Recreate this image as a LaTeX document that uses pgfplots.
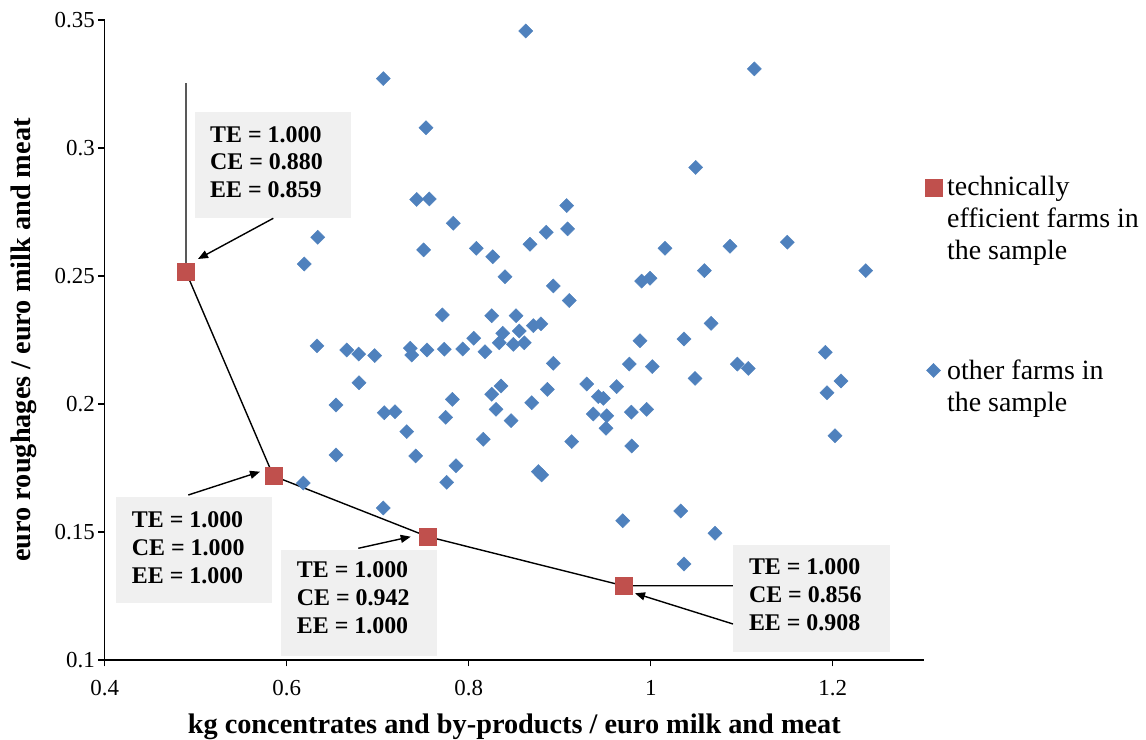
\documentclass[border=0pt]{standalone}
\usepackage{fontspec}
\setmainfont{Liberation Serif}
\usepackage{pgfplots}
\pgfplotsset{compat=1.18}
\usetikzlibrary{arrows.meta}
\definecolor{eblue}{RGB}{79,129,189}
\definecolor{ered}{RGB}{192,80,77}
\definecolor{boxgray}{RGB}{240,240,240}

\begin{document}
\begin{tikzpicture}[x=1bp,y=1bp]
\useasboundingbox (0,0) rectangle (1146,740);
\begin{axis}[
  at={(104.8bp,80bp)}, anchor=south west,
  scale only axis, width=819bp, height=640bp,
  xmin=0.4, xmax=1.3, ymin=0.1, ymax=0.35,
  axis x line*=bottom, axis y line*=left,
  axis line style={line width=1.2bp, -},
  xtick={0.4,0.6,0.8,1,1.2}, ytick={0.1,0.15,0.2,0.25,0.3,0.35},
  tick align=outside, major tick length=6.5bp,
  tick style={line width=1.2bp, black},
  /pgf/number format/assume math mode=true,
  ticklabel style={font=\fontsize{23}{27}\selectfont},
  xticklabel style={yshift=-10bp},
  xlabel={kg concentrates and by-products / euro milk and meat},
  ylabel={euro roughages / euro milk and meat},
  label style={font=\bfseries\fontsize{28.4}{32}\selectfont},
  xlabel style={at={(axis description cs:0.5,-0.1141)}, anchor=base},
  ylabel style={at={(axis description cs:-0.0913,0.5)}, anchor=base},
  legend style={at={(axis description cs:1.0012,0.756)}, anchor=north west,
    draw=none, fill=none, inner sep=0pt, row sep=99bp, column sep=5bp,
    font=\fontsize{28}{32}\selectfont, nodes={inner sep=0pt, align=left}},
  legend cell align=left,
]
\addplot[only marks, mark=square*, mark size=8.6bp, color=ered, mark options={line width=0.4bp},
  legend image post style={yshift=31bp}]
  coordinates {(0.4892,0.2516) (0.5852,0.1719) (0.7548,0.1482) (0.9700,0.1290)};
\addlegendentry{technically\\efficient farms in\\the sample}
\addplot[only marks, mark=square*, mark size=5bp, color=eblue, mark options={rotate=45, line width=0.4bp},
  legend image post style={yshift=16bp}]
  coordinates {
(0.8625,0.3457) (0.7060,0.3271) (1.1137,0.3309) (0.7530,0.3079) (1.0493,0.2924)
(0.7427,0.2799) (0.7566,0.2801) (0.6340,0.2651) (0.7830,0.2706) (0.9076,0.2775)
(0.9085,0.2684) (0.8851,0.2671) (0.8673,0.2624) (0.6192,0.2547) (0.7504,0.2602)
(0.8082,0.2608) (0.8263,0.2575) (0.7709,0.2348) (0.8252,0.2345) (0.6332,0.2227)
(0.6658,0.2211) (0.6790,0.2195) (0.6966,0.2189) (0.7357,0.2218) (0.7373,0.2191)
(0.7541,0.2211) (0.7731,0.2214) (0.7933,0.2215) (0.8054,0.2257) (0.8178,0.2204)
(1.0156,0.2608) (1.0588,0.2521) (0.8398,0.2497) (0.9900,0.2480) (0.9991,0.2491)
(0.8929,0.2461) (0.9104,0.2404) (0.8519,0.2345) (0.8709,0.2306) (0.8793,0.2313)
(0.8373,0.2276) (0.8555,0.2285) (0.8335,0.2239) (0.8489,0.2233) (0.8610,0.2239)
(0.9881,0.2247) (1.0365,0.2254) (0.8929,0.2159) (0.9764,0.2156) (1.0016,0.2146)
(1.0870,0.2616) (1.1500,0.2632) (1.2362,0.2521) (1.0662,0.2315) (1.1918,0.2202)
(1.0951,0.2156) (1.1071,0.2139) (1.0486,0.2100) (1.2090,0.2090) (1.1936,0.2044)
(1.2024,0.1876) (1.0705,0.1495) (0.8354,0.2070) (0.8252,0.2038) (0.8863,0.2057)
(0.9296,0.2078) (0.9625,0.2068) (0.9423,0.2029) (0.9478,0.2022) (0.8691,0.2005)
(0.8299,0.1979) (0.8464,0.1935) (0.9368,0.1961) (0.9515,0.1954) (0.9786,0.1968)
(0.9955,0.1979) (0.9508,0.1905) (0.9131,0.1853) (0.9790,0.1836) (0.8764,0.1736)
(0.8801,0.1723) (1.0329,0.1582) (0.9691,0.1544) (1.0365,0.1375) (0.6793,0.2083)
(0.6541,0.1996) (0.7071,0.1966) (0.7189,0.1970) (0.7819,0.2018) (0.7746,0.1948)
(0.8159,0.1862) (0.7318,0.1892) (0.6541,0.1801) (0.7416,0.1797) (0.7859,0.1759)
(0.7757,0.1694) (0.6181,0.1691) (0.7060,0.1594)
  };
\addlegendentry{other farms in\\the sample}
\addplot[black, line width=1.4bp, forget plot, mark=none]
  coordinates {(0.4892,0.3253) (0.4892,0.2516) (0.5852,0.1719) (0.7548,0.1482) (0.9700,0.1290) (1.0903,0.1290)};
\end{axis}
% annotation boxes
\fill[boxgray] (195,521.7) rectangle (351,628.3);
\fill[boxgray] (116,136.7) rectangle (272.3,243.3);
\fill[boxgray] (281,83.5) rectangle (436.7,190);
\fill[boxgray] (733,88.3) rectangle (889.8,195);
\begin{scope}[every node/.style={inner sep=0pt, align=left, anchor=north west, font=\bfseries\fontsize{24}{28}\selectfont}]
\node at (210,614) {TE = 1.000\\CE = 0.880\\EE = 0.859};
\node at (131.7,228.3) {TE = 1.000\\CE = 1.000\\EE = 1.000};
\node at (296.7,178.3) {TE = 1.000\\CE = 0.942\\EE = 1.000};
\node at (748.8,181.7) {TE = 1.000\\CE = 0.856\\EE = 0.908};
\end{scope}
\begin{scope}[line width=1.4bp, -{Triangle[length=10bp,width=8bp]}]
\draw (273.3,521.7) -- (198,481);
\draw (188.3,245) -- (260,268.3);
\draw (358.3,191.7) -- (410.7,203.3);
\draw (733,116) -- (635,146.7);
\end{scope}
\end{tikzpicture}
\end{document}
